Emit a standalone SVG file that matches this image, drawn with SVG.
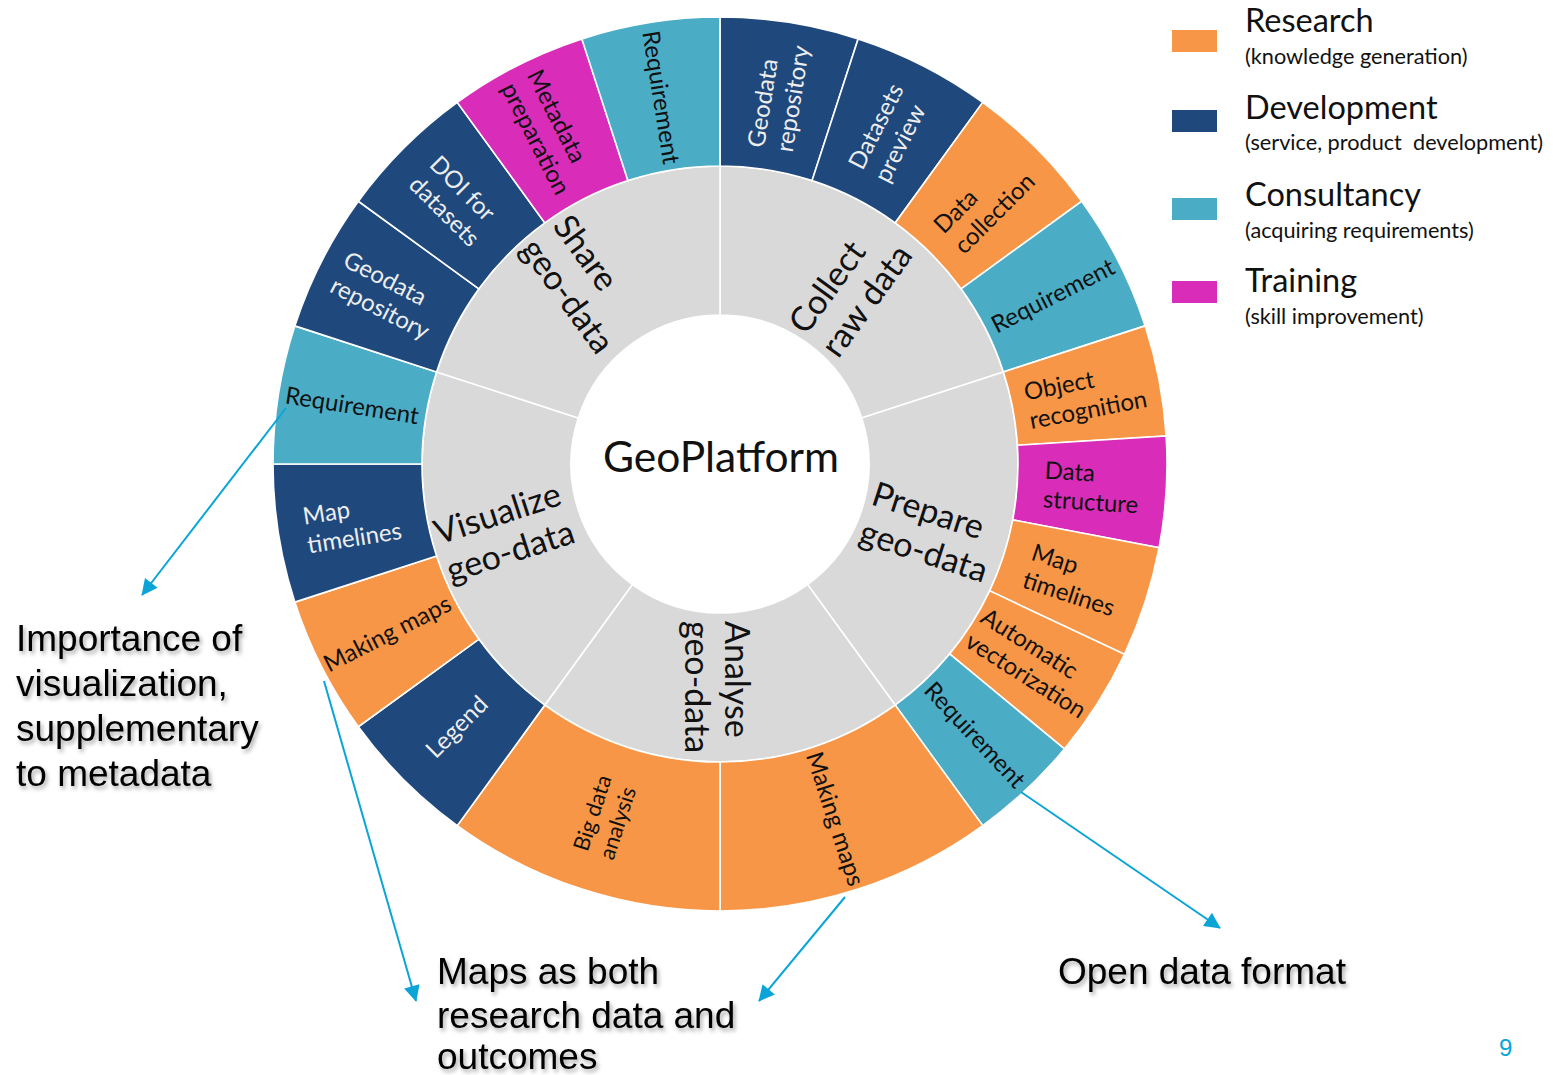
<svg xmlns="http://www.w3.org/2000/svg" width="1553" height="1075" viewBox="0 0 1553 1075">
<defs>
<style>
.seg{stroke:#ffffff;stroke-width:1.6}
.or{fill:#F79646}.db{fill:#1F497D}.cy{fill:#4BACC6}.mg{fill:#D92CB9}.gr{fill:#D9D9D9}
.lbl{font-family:Lato,"Open Sans",sans-serif;font-size:24px;fill:#111111}
.lw{fill:#EDEDED}
.inl{font-family:Lato,"Open Sans",sans-serif;font-size:34px;fill:#111111}
.ctr{font-family:Lato,"Open Sans",sans-serif;font-size:42.5px;fill:#111111}
.lgt{font-family:Lato,"Open Sans",sans-serif;font-size:32.5px;fill:#111111}
.lgs{font-family:Lato,"Open Sans",sans-serif;font-size:21.7px;fill:#111111}
.ann{font-family:"Liberation Sans",Arial,sans-serif;font-size:37px;fill:#000000}
.conn{stroke:#0AA5D6;stroke-width:2;fill:none}
</style>
<marker id="ah" viewBox="0 0 10 10" refX="9.5" refY="5" markerWidth="17" markerHeight="16" markerUnits="userSpaceOnUse" orient="auto">
<path d="M0,0 L10,5 L0,10 Z" fill="#0AA5D6"/>
</marker>
<filter id="sh" x="-10%" y="-30%" width="130%" height="180%">
<feGaussianBlur in="SourceAlpha" stdDeviation="2"/>
<feOffset dx="2" dy="3" result="b"/>
<feFlood flood-color="#000000" flood-opacity="0.35"/>
<feComposite in2="b" operator="in"/>
<feMerge><feMergeNode/><feMergeNode in="SourceGraphic"/></feMerge>
</filter>
</defs>
<rect width="1553" height="1075" fill="#ffffff"/>

<!-- Inner ring -->
<g id="collect-raw-data">
<path class="seg gr" d="M720,166 A298,298 0 0 1 1003.41,371.91 L861.71,417.96 A149,149 0 0 0 720,315 Z"/>
<text class="inl" transform="translate(850,289) rotate(-54)"><tspan x="-64" y="-8">Collect</tspan><tspan x="-64" y="32">raw data</tspan></text>
</g>
<g id="prepare-geo-data">
<path class="seg gr" d="M1003.41,371.91 A298,298 0 0 1 895.16,705.09 L807.58,584.54 A149,149 0 0 0 861.71,417.96 Z"/>
<text class="inl" transform="translate(930,532) rotate(18)"><tspan x="-66" y="-8">Prepare</tspan><tspan x="-66" y="32">geo-data</tspan></text>
</g>
<g id="analyse-geo-data">
<path class="seg gr" d="M895.16,705.09 A298,298 0 0 1 544.84,705.09 L632.42,584.54 A149,149 0 0 0 807.58,584.54 Z"/>
<text class="inl" transform="translate(717,687) rotate(90)"><tspan x="-66" y="-8">Analyse</tspan><tspan x="-66" y="32">geo-data</tspan></text>
</g>
<g id="visualize-geo-data">
<path class="seg gr" d="M544.84,705.09 A298,298 0 0 1 436.59,371.91 L578.29,417.96 A149,149 0 0 0 632.42,584.54 Z"/>
<text class="inl" transform="translate(504,532) rotate(-18)"><tspan x="-66" y="-8">Visualize</tspan><tspan x="-66" y="32">geo-data</tspan></text>
</g>
<g id="share-geo-data">
<path class="seg gr" d="M436.59,371.91 A298,298 0 0 1 720,166 L720,315 A149,149 0 0 0 578.29,417.96 Z"/>
<text class="inl" transform="translate(584,284) rotate(54)"><tspan x="-66" y="-8">Share</tspan><tspan x="-66" y="32">geo-data</tspan></text>
</g>

<!-- Outer ring: Collect raw data -->
<g id="c-geodata-repository">
<path class="seg db" d="M720,17 A447,447 0 0 1 858.13,38.88 L812.09,180.59 A298,298 0 0 0 720,166 Z"/>
<text class="lbl lw" transform="translate(778.2,96.6) rotate(-81)"><tspan x="-53.5" y="-6">Geodata</tspan><tspan x="-53.5" y="23">repository</tspan></text>
</g>
<g id="c-datasets-preview">
<path class="seg db" d="M858.13,38.88 A447,447 0 0 1 982.74,102.37 L895.16,222.91 A298,298 0 0 0 812.09,180.59 Z"/>
<text class="lbl lw" transform="translate(888.9,132.5) rotate(-63)"><tspan x="-46.5" y="-6">Datasets</tspan><tspan x="-46.5" y="23">preview</tspan></text>
</g>
<g id="c-data-collection">
<path class="seg or" d="M982.74,102.37 A447,447 0 0 1 1081.63,201.26 L961.09,288.84 A298,298 0 0 0 895.16,222.91 Z"/>
<text class="lbl" transform="translate(984,203) rotate(-45)"><tspan x="-51" y="-6">Data</tspan><tspan x="-51" y="23">collection</tspan></text>
</g>
<g id="c-requirement">
<path class="seg cy" d="M1081.63,201.26 A447,447 0 0 1 1145.12,325.87 L1003.41,371.91 A298,298 0 0 0 961.09,288.84 Z"/>
<text class="lbl" text-anchor="middle" transform="translate(1053,296) rotate(-27)" y="8">Requirement</text>
</g>

<!-- Outer ring: Prepare geo-data -->
<g id="p-object-recognition">
<path class="seg or" d="M1145.12,325.87 A447,447 0 0 1 1166.12,435.93 L1017.41,445.29 A298,298 0 0 0 1003.41,371.91 Z"/>
<text class="lbl" transform="translate(1085.4,395.3) rotate(-10.8)"><tspan x="-59.5" y="-6">Object</tspan><tspan x="-59.5" y="23">recognition</tspan></text>
</g>
<g id="p-data-structure">
<path class="seg mg" d="M1166.12,435.93 A447,447 0 0 1 1159.08,547.76 L1012.72,519.84 A298,298 0 0 0 1017.41,445.29 Z"/>
<text class="lbl" transform="translate(1091.3,487.4) rotate(3.6)"><tspan x="-47.5" y="-6">Data</tspan><tspan x="-47.5" y="23">structure</tspan></text>
</g>
<g id="p-map-timelines">
<path class="seg or" d="M1159.08,547.76 A447,447 0 0 1 1124.46,654.32 L989.64,590.88 A298,298 0 0 0 1012.72,519.84 Z"/>
<text class="lbl" transform="translate(1073.8,580) rotate(18)"><tspan x="-48" y="-6">Map</tspan><tspan x="-48" y="23">timelines</tspan></text>
</g>
<g id="p-automatic-vectorization">
<path class="seg or" d="M1124.46,654.32 A447,447 0 0 1 1064.42,748.93 L949.61,653.95 A298,298 0 0 0 989.64,590.88 Z"/>
<text class="lbl" transform="translate(1034.1,663.3) rotate(32.4)"><tspan x="-69" y="-6">Automatic</tspan><tspan x="-69" y="23">vectorization</tspan></text>
</g>
<g id="p-requirement">
<path class="seg cy" d="M1064.42,748.93 A447,447 0 0 1 982.74,825.63 L895.16,705.09 A298,298 0 0 0 949.61,653.95 Z"/>
<text class="lbl" text-anchor="middle" transform="translate(974.7,735.2) rotate(46.8)" y="8">Requirement</text>
</g>

<!-- Outer ring: Analyse geo-data -->
<g id="a-making-maps">
<path class="seg or" d="M982.74,825.63 A447,447 0 0 1 720,911 L720,762 A298,298 0 0 0 895.16,705.09 Z"/>
<text class="lbl" text-anchor="middle" transform="translate(835,819) rotate(72)" y="8">Making maps</text>
</g>
<g id="a-big-data-analysis">
<path class="seg or" d="M720,911 A447,447 0 0 1 457.26,825.63 L544.84,705.09 A298,298 0 0 0 720,762 Z"/>
<text class="lbl" style="font-size:22px" transform="translate(605,817.8) rotate(-72)"><tspan x="-38.5" y="-5.8">Big data</tspan><tspan x="-38.5" y="21.2">analysis</tspan></text>
</g>

<!-- Outer ring: Visualize geo-data -->
<g id="v-legend">
<path class="seg db" d="M457.26,825.63 A447,447 0 0 1 358.37,726.74 L478.91,639.16 A298,298 0 0 0 544.84,705.09 Z"/>
<text class="lbl lw" text-anchor="middle" transform="translate(457,727) rotate(-45)" y="8">Legend</text>
</g>
<g id="v-making-maps">
<path class="seg or" d="M358.37,726.74 A447,447 0 0 1 294.88,602.13 L436.59,556.09 A298,298 0 0 0 478.91,639.16 Z"/>
<text class="lbl" text-anchor="middle" transform="translate(387.5,633.9) rotate(-27)" y="8">Making maps</text>
</g>
<g id="v-map-timelines">
<path class="seg db" d="M294.88,602.13 A447,447 0 0 1 273,464 L422,464 A298,298 0 0 0 436.59,556.09 Z"/>
<text class="lbl lw" transform="translate(352.6,523.2) rotate(-9)"><tspan x="-48" y="-6">Map</tspan><tspan x="-48" y="23">timelines</tspan></text>
</g>
<g id="v-requirement">
<path class="seg cy" d="M273,464 A447,447 0 0 1 294.88,325.87 L436.59,371.91 A298,298 0 0 0 422,464 Z"/>
<text class="lbl" text-anchor="middle" transform="translate(352,405.8) rotate(9)" y="8">Requirement</text>
</g>

<!-- Outer ring: Share geo-data -->
<g id="s-geodata-repository">
<path class="seg db" d="M294.88,325.87 A447,447 0 0 1 358.37,201.26 L478.91,288.84 A298,298 0 0 0 436.59,371.91 Z"/>
<text class="lbl lw" transform="translate(386.5,295.1) rotate(27)"><tspan x="-53.5" y="-6">Geodata</tspan><tspan x="-53.5" y="23">repository</tspan></text>
</g>
<g id="s-doi-for-datasets">
<path class="seg db" d="M358.37,201.26 A447,447 0 0 1 457.26,102.37 L544.84,222.91 A298,298 0 0 0 478.91,288.84 Z"/>
<text class="lbl lw" transform="translate(455,201) rotate(45)"><tspan x="-44" y="-6">DOI for</tspan><tspan x="-44" y="23">datasets</tspan></text>
</g>
<g id="s-metadata-preparation">
<path class="seg mg" d="M457.26,102.37 A447,447 0 0 1 581.87,38.88 L627.91,180.59 A298,298 0 0 0 544.84,222.91 Z"/>
<text class="lbl" transform="translate(549.1,132.5) rotate(63)"><tspan x="-61.5" y="-6">Metadata</tspan><tspan x="-61.5" y="23">preparation</tspan></text>
</g>
<g id="s-requirement">
<path class="seg cy" d="M581.87,38.88 A447,447 0 0 1 720,17 L720,166 A298,298 0 0 0 627.91,180.59 Z"/>
<text class="lbl" text-anchor="middle" transform="translate(660.8,97.6) rotate(81)" y="8">Requirement</text>
</g>

<!-- Center -->
<g id="geoplatform">
<circle cx="720" cy="464" r="149" fill="#ffffff"/>
<text class="ctr" x="721" y="472" text-anchor="middle">GeoPlatform</text>
</g>

<!-- Legend -->
<g id="legend-research">
<rect x="1172" y="30" width="45" height="22" class="or"/>
<text class="lgt" x="1245" y="32">Research</text>
<text class="lgs" x="1245" y="64">(knowledge generation)</text>
</g>
<g id="legend-development">
<rect x="1172" y="110" width="45" height="22" class="db"/>
<text class="lgt" x="1245" y="119">Development</text>
<text class="lgs" x="1245" y="150" xml:space="preserve">(service, product  development)</text>
</g>
<g id="legend-consultancy">
<rect x="1172" y="198" width="45" height="22" class="cy"/>
<text class="lgt" x="1245" y="206">Consultancy</text>
<text class="lgs" x="1245" y="238">(acquiring requirements)</text>
</g>
<g id="legend-training">
<rect x="1172" y="281" width="45" height="22" class="mg"/>
<text class="lgt" x="1245" y="292">Training</text>
<text class="lgs" x="1245" y="324">(skill improvement)</text>
</g>

<!-- Annotations -->
<g id="note-visualization" filter="url(#sh)">
<text class="ann"><tspan x="16" y="651">Importance of</tspan><tspan x="16" y="696">visualization,</tspan><tspan x="16" y="741">supplementary</tspan><tspan x="16" y="786">to metadata</tspan></text>
</g>
<g id="note-maps" filter="url(#sh)">
<text class="ann"><tspan x="437" y="984">Maps as both</tspan><tspan x="437" y="1028">research data and</tspan><tspan x="437" y="1069">outcomes</tspan></text>
</g>
<g id="note-open-data" filter="url(#sh)">
<text class="ann" x="1058" y="984">Open data format</text>
</g>
<text x="1499" y="1056" font-family="'Liberation Sans',Arial,sans-serif" font-size="24" fill="#0AA5D6">9</text>

<!-- Connectors -->
<g id="connectors">
<line class="conn" x1="286" y1="408" x2="142" y2="595" marker-end="url(#ah)"/>
<line class="conn" x1="324" y1="681" x2="416" y2="1001" marker-end="url(#ah)"/>
<line class="conn" x1="845" y1="897" x2="759" y2="1001" marker-end="url(#ah)"/>
<line class="conn" x1="1021" y1="792" x2="1220" y2="928" marker-end="url(#ah)"/>
</g>
</svg>
